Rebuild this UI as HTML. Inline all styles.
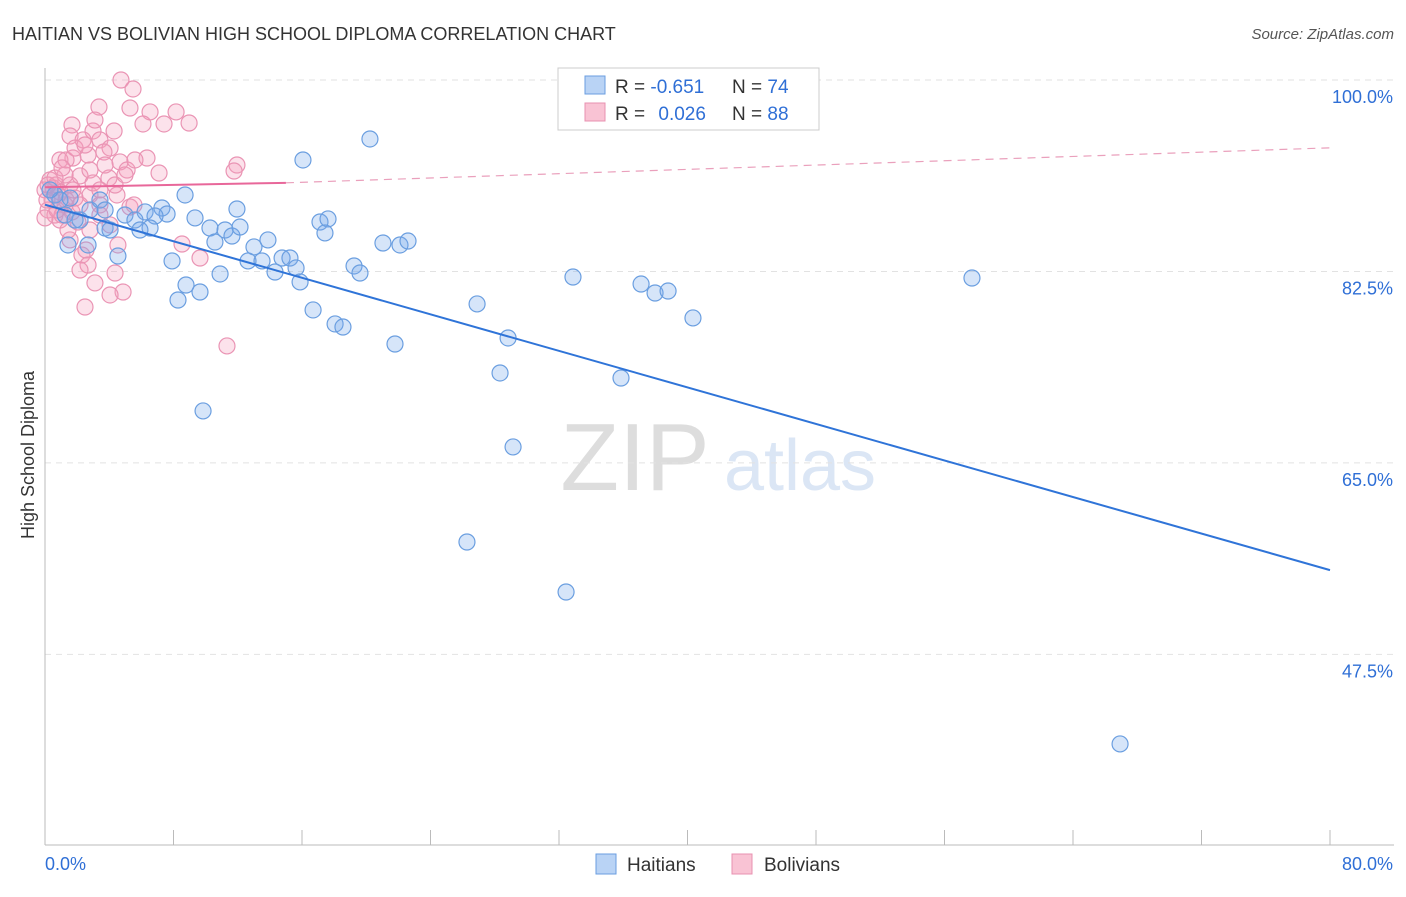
<!DOCTYPE html>
<html><head><meta charset="utf-8"><style>
html,body{margin:0;padding:0;background:#fff;}
body{width:1406px;height:892px;overflow:hidden;font-family:"Liberation Sans",sans-serif;}
svg text{font-family:"Liberation Sans",sans-serif;}
</style></head><body>
<svg id="chart" width="1406" height="892" xmlns="http://www.w3.org/2000/svg">
<text x="12" y="40" font-size="18" fill="#333">HAITIAN VS BOLIVIAN HIGH SCHOOL DIPLOMA CORRELATION CHART</text>
<text x="1394" y="39" font-size="15" fill="#555" text-anchor="end" font-style="italic">Source: ZipAtlas.com</text>
<text x="34" y="455" font-size="18" fill="#333" text-anchor="middle" transform="rotate(-90 34 455)">High School Diploma</text>
<g>
<text x="635" y="490" font-size="96" fill="#ddd" text-anchor="middle" font-family="Liberation Serif">ZIP</text>
<text x="800" y="490" font-size="72" fill="#dbe6f5" text-anchor="middle">atlas</text>
</g>
<g id="grid"></g><g id="axes"></g><g id="pts"></g><g id="lines"></g>
<g>
<rect x="558" y="68" width="261" height="62" fill="#fff" stroke="#ccc"/>
<rect x="585" y="76" width="20" height="18" fill="#b9d3f5" stroke="#6a9ee0"/>
<rect x="585" y="103" width="20" height="18" fill="#f9c3d4" stroke="#e890b0"/>
<text x="615" y="93" font-size="19" fill="#333">R = <tspan fill="#2f6fd6">-0.651</tspan><tspan x="732">N = </tspan><tspan fill="#2f6fd6">74</tspan></text>
<text x="615" y="120" font-size="19" fill="#333">R = <tspan fill="#2f6fd6" dx="8">0.026</tspan><tspan x="732">N = </tspan><tspan fill="#2f6fd6">88</tspan></text>
</g>
<g>
<rect x="596" y="854" width="20" height="20" fill="#b9d3f5" stroke="#6a9ee0"/>
<text x="627" y="871" font-size="19" fill="#333">Haitians</text>
<rect x="732" y="854" width="20" height="20" fill="#f9c3d4" stroke="#e890b0"/>
<text x="764" y="871" font-size="19" fill="#333">Bolivians</text>
</g>
</svg>
<script>
const yTicks=[100,82.5,65,47.5];
const yTickLabels=["100.0%","82.5%","65.0%","47.5%"];
const xLabels=["0.0%","80.0%"];
const haitianX=[20.23,16.06,8.72,11.95,7.28,7.60,9.34,6.23,4.98,5.60,6.85,6.54,5.91,3.74,10.27,11.21,11.64,12.14,10.58,13.88,13.01,17.12,17.62,17.43,21.04,22.10,22.60,7.91,10.90,12.64,13.51,14.76,15.25,15.63,14.32,15.88,19.24,19.61,8.78,9.65,8.28,16.69,18.06,18.55,21.79,26.90,28.83,28.33,32.87,37.11,37.98,38.79,40.34,35.86,29.14,9.84,26.27,32.44,66.93,57.71,0.62,0.93,1.56,1.25,2.18,2.80,3.42,3.74,4.05,4.54,1.43,2.68,1.87,0.31];
const haitianY=[94.61,92.69,89.49,88.21,88.30,87.75,87.39,87.94,87.66,87.20,87.57,86.47,86.29,86.47,86.47,86.29,85.74,86.56,85.19,85.38,84.74,87.02,87.30,86.02,85.10,84.92,85.28,83.46,82.27,83.46,83.46,83.73,83.73,82.82,82.45,81.54,83.00,82.36,81.26,80.62,79.89,78.98,77.70,77.42,75.87,79.53,76.42,73.22,81.99,81.35,80.53,80.71,78.25,72.76,66.46,69.75,57.77,53.20,39.31,81.90,89.49,89.03,89.21,87.66,87.20,88.12,89.03,88.12,86.29,83.91,84.92,84.92,87.20,89.95];
const bolivianX=[4.73,5.48,3.36,5.29,6.54,8.16,1.68,6.10,7.41,8.97,2.99,4.30,1.56,2.37,3.42,4.05,1.74,0.93,1.31,2.68,6.35,4.67,3.67,11.95,11.77,5.11,7.10,2.18,2.80,3.98,0.31,0.68,1.56,0,0.93,2.80,4.48,0.44,1.25,3.42,5.29,5.54,0.19,0.62,1.68,3.42,0,0.93,4.05,1.56,4.54,8.53,2.55,2.30,9.65,2.68,2.18,4.36,3.11,4.86,4.05,2.49,11.33,1.06,1.87,2.99,3.74,1.25,1.87,2.49,3.11,0.50,0.81,0.12,1.43,2.05,3.42,4.36,4.98,5.60,0.19,0.62,1.06,1.31,1.74,2.18,2.80,0.75];
const bolivianY=[100,99.18,97.53,97.44,97.08,97.08,95.89,95.98,95.98,96.07,95.34,95.34,94.88,94.52,94.52,93.78,92.87,92.69,92.69,93.14,92.87,92.51,93.42,92.23,91.68,91.77,91.50,91.23,91.77,91.04,90.86,90.40,90.40,89.95,89.76,89.49,89.49,89.03,88.58,88.58,88.39,88.58,88.12,87.66,87.94,87.66,87.39,87.20,86.75,85.38,84.92,85.01,84.46,84.00,83.73,83.09,82.63,82.36,81.45,80.62,80.35,79.25,75.69,87.66,89.21,90.59,92.23,91.32,93.78,94.06,96.34,90.13,89.49,89.03,86.29,87.02,89.95,90.40,91.32,92.69,90.40,91.04,91.96,89.03,89.95,88.58,86.29,88.12];
const haitianTrend=[[0,88.6],[80,55.2]];
const bolivianTrend=[[0,90.2],[15,90.6],[80,93.8]];
const NS="http://www.w3.org/2000/svg";
const xs=v=>45+v/80*1285;
const ys=v=>80+(100-v)*10.94;
function mk(tag,attrs,parent){const e=document.createElementNS(NS,tag);for(const k in attrs)e.setAttribute(k,attrs[k]);document.getElementById(parent).appendChild(e);return e;}
yTicks.forEach((t,i)=>{
  const g=mk('line',{x1:45,x2:1394,y1:ys(t),y2:ys(t),stroke:'#e2e2e2','stroke-dasharray':'6,5'},'grid');
  
  
  const tx=mk('text',{x:1393,y:ys(t)+23,'font-size':18,fill:'#2f6fd6','text-anchor':'end'},'grid');
  tx.textContent=yTickLabels[i];
  
  
});
let a=mk('line',{x1:45,x2:45,y1:68,y2:845,stroke:'#bbb'},'axes');


a=mk('line',{x1:45,x2:1394,y1:845,y2:845,stroke:'#bbb'},'axes');


for(let i=0;i<=10;i++){const t=mk('line',{x1:xs(i*8),x2:xs(i*8),y1:830,y2:845,stroke:'#bbb'},'axes');

}
let xl=mk('text',{x:45,y:870,'font-size':18,fill:'#2f6fd6'},'axes');xl.textContent=xLabels[0];


xl=mk('text',{x:1393,y:870,'font-size':18,fill:'#2f6fd6','text-anchor':'end'},'axes');xl.textContent=xLabels[1];


bolivianX.forEach((v,i)=>{const c=mk('circle',{cx:xs(v),cy:ys(bolivianY[i]),r:8,fill:'rgba(244,160,190,0.3)',stroke:'#ea94b4','stroke-width':1.2},'pts');

});
haitianX.forEach((v,i)=>{const c=mk('circle',{cx:xs(v),cy:ys(haitianY[i]),r:8,fill:'rgba(120,170,235,0.3)',stroke:'#6a9ee0','stroke-width':1.2},'pts');

});
let l=mk('line',{x1:xs(haitianTrend[0][0]),y1:ys(haitianTrend[0][1]),x2:xs(haitianTrend[1][0]),y2:ys(haitianTrend[1][1]),stroke:'#2f74d8','stroke-width':2},'lines');


l=mk('line',{x1:xs(bolivianTrend[0][0]),y1:ys(bolivianTrend[0][1]),x2:xs(bolivianTrend[1][0]),y2:ys(bolivianTrend[1][1]),stroke:'#e8679a','stroke-width':2},'lines');


l=mk('line',{x1:xs(bolivianTrend[1][0]),y1:ys(bolivianTrend[1][1]),x2:xs(bolivianTrend[2][0]),y2:ys(bolivianTrend[2][1]),stroke:'#eaa0bc','stroke-width':1.2,'stroke-dasharray':'8,6'},'lines');


</script>
</body></html>
